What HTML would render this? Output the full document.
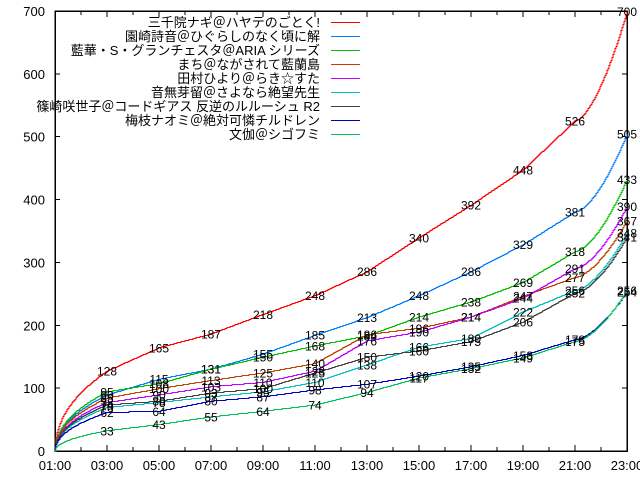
<!DOCTYPE html>
<html><head><meta charset="utf-8"><style>
html,body{margin:0;padding:0;background:#fff;}
svg{display:block;font-family:"Liberation Sans","Noto Sans CJK JP",sans-serif;}
</style></head><body>
<svg id="s" width="640" height="480" xmlns="http://www.w3.org/2000/svg" shape-rendering="crispEdges"></svg>
<script>
const S=document.getElementById('s');
const X0=55,X1=627,Y0=451,YT=11;
const sx=h=>X0+(h-1)*(X1-X0)/22;
const sy=v=>Y0-v*(Y0-YT)/700;
let h='';
h+=`<rect x="${X0}" y="${YT}" width="${X1-X0}" height="${Y0-YT}" fill="none" stroke="#000" stroke-width="1.5"/>`;
for(let v=0;v<=700;v+=100){const y=sy(v);h+=`<line x1="${X0}" y1="${y}" x2="${X0+5}" y2="${y}" stroke="#000"/><line x1="${X1}" y1="${y}" x2="${X1-5}" y2="${y}" stroke="#000"/><text x="45" y="${y+5}" font-size="13" text-anchor="end">${v}</text>`;}
for(let t=1;t<=23;t++){const x=sx(t);const L=(t%2)?6:4;h+=`<line x1="${x}" y1="${Y0}" x2="${x}" y2="${Y0-L}" stroke="#000"/><line x1="${x}" y1="${YT}" x2="${x}" y2="${YT+L}" stroke="#000"/>`;
 if(t%2) h+=`<text x="${x}" y="470" font-size="13" text-anchor="middle">${String(t).padStart(2,'0')}:00</text>`;}
const series=[
['三千院ナギ＠ハヤテのごとく!','#ff0000',[0,128,165,187,218,248,286,340,392,448,526,700]],
['園崎詩音＠ひぐらしのなく頃に解','#0080ff',[0,90,115,131,155,185,213,248,286,329,381,505]],
['藍華・S・グランチェスタ＠ARIA シリーズ','#00c000',[0,95,108,131,150,168,184,214,238,269,318,433]],
['まち＠ながされて藍蘭島','#c04000',[0,85,100,113,125,140,186,196,214,247,277,367]],
['田村ひより＠らき☆すた','#c000ff',[0,78,90,103,110,128,176,190,214,244,291,390]],
['音無芽留＠さよなら絶望先生','#00c0c0',[0,70,78,87,95,110,138,166,180,222,256,348]],
['篠崎咲世子＠コードギアス 反逆のルルーシュ R2','#404040',[0,74,80,93,100,125,150,160,175,206,252,341]],
['梅枝ナオミ＠絶対可憐チルドレン','#0000c0',[0,62,64,80,87,98,107,120,135,153,178,254]],
['文伽＠シゴフミ','#00c060',[0,33,43,55,64,74,94,117,132,149,175,256]]];
function val(d,t){
 if(t<=3){const f=(t-1)/2;return d[1]*Math.pow(f,0.45);}
 const i=Math.min(10,Math.floor((t-1)/2));const f=((t-1)-2*i)/2;
 if(i==10) return d[10]+(d[11]-d[10])*Math.pow(f,1.6);
 return d[i]+(d[i+1]-d[i])*f;}
let lab='';
series.forEach((s,k)=>{const d=s[2];let p=`M${sx(1)},${sy(0)}`;let py=Math.round(sy(0))+0.5;
 for(let x=Math.round(sx(1))+1;x<=X1;x+=1){const t=1+(x-X0)*22/(X1-X0);const y=Math.round(sy(val(d,t)))+0.5;p+=`L${x},${py}L${x},${y}`;py=y;}
 h+=`<path d="${p}" fill="none" stroke="${s[1]}" stroke-width="1"/>`;
 for(let i=1;i<=11;i++){lab+=`<text x="${sx(1+2*i)}" y="${sy(d[i])+5}" font-size="12" text-anchor="middle">${d[i]}</text>`;}
 const ly=22+k*14;
 h+=`<text x="320" y="${ly+5}" font-size="13" text-anchor="end">${s[0]}</text><line x1="331" y1="${ly+0.5}" x2="360" y2="${ly+0.5}" stroke="${s[1]}"/>`;
});
S.innerHTML=h+lab;
</script>
</body></html>
